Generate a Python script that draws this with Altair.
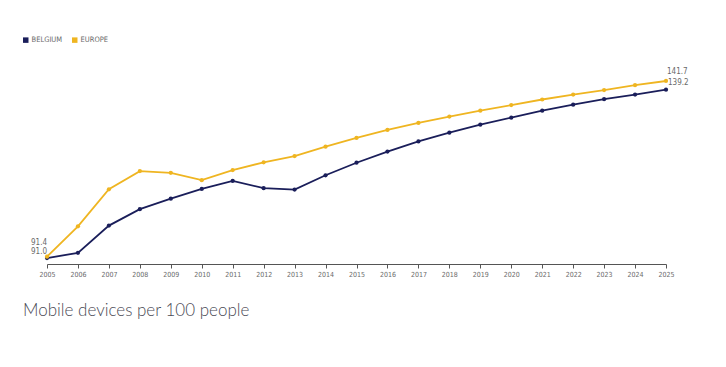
import altair as alt
import pandas as pd

years = list(range(2005, 2026))
belgium = [91.0, 92.5, 100.3, 105.0, 108.0, 110.8, 113.1, 111.0, 110.6, 114.7, 118.3,
           121.5, 124.4, 126.9, 129.2, 131.2, 133.2, 134.9, 136.5, 137.8, 139.2]
europe = [91.4, 100.1, 110.7, 115.9, 115.4, 113.3, 116.2, 118.4, 120.2, 122.9, 125.4,
          127.7, 129.7, 131.5, 133.2, 134.8, 136.4, 137.8, 139.1, 140.5, 141.7]
series_names = ["BELGIUM", "EUROPE"]
series_colors = ["#1a1e5a", "#efb521"]
title_text = "Mobile devices per 100 people"

FONT = "Liberation Sans Narrow, DejaVu Sans Condensed, Open Sans, sans-serif"

rows = []
for name, vals in zip(series_names, [belgium, europe]):
    for yr, v in zip(years, vals):
        rows.append({"year": yr, "value": v, "series": name, "label": f"{v:.1f}"})
df = pd.DataFrame(rows)

scale_c = alt.Scale(domain=series_names, range=series_colors)
legend = alt.Legend(title=None, orient="none", legendX=-25, legendY=6,
                    direction="horizontal", symbolType="square",
                    symbolSize=30, labelFontSize=7.5, labelColor="#6a6a6a",
                    labelFont=FONT, columnPadding=8, symbolStrokeWidth=0,
                    symbolOffset=0, labelOffset=2)
x = alt.X("year:Q",
          scale=alt.Scale(domain=[2005, 2025], nice=False, zero=False),
          axis=alt.Axis(values=years, format="d", title=None, grid=False,
                        labelFontSize=7, labelColor="#6a6a6a", labelFont=FONT,
                        tickColor="#555555", domainColor="#555555", tickSize=4,
                        labelPadding=2, labelFlush=False, domainWidth=1))
y = alt.Y("value:Q", scale=alt.Scale(domain=[89.3, 156.3], nice=False, zero=False), axis=None)

base = alt.Chart(df).encode(x=x, y=y)
lines = base.mark_line(strokeWidth=1.8).encode(color=alt.Color("series:N", scale=scale_c, legend=legend))
points = base.mark_circle(size=18, opacity=1).encode(
    color=alt.Color("series:N", scale=scale_c, legend=legend))

lab_style = dict(fontSize=8, color="#6a6a6a", font=FONT)
lab_be_start = base.mark_text(align="right", dx=0, dy=-6, **lab_style).encode(text="label:N").transform_filter(
    (alt.datum.series == "BELGIUM") & (alt.datum.year == 2005))
lab_eu_start = base.mark_text(align="right", dx=0, dy=-14, **lab_style).encode(text="label:N").transform_filter(
    (alt.datum.series == "EUROPE") & (alt.datum.year == 2005))
lab_be_end = base.mark_text(align="left", dx=2, dy=-7, **lab_style).encode(text="label:N").transform_filter(
    (alt.datum.series == "BELGIUM") & (alt.datum.year == 2025))
lab_eu_end = base.mark_text(align="left", dx=1, dy=-9, **lab_style).encode(text="label:N").transform_filter(
    (alt.datum.series == "EUROPE") & (alt.datum.year == 2025))

title_layer = alt.Chart(pd.DataFrame({"t": [title_text]})).mark_text(
    align="left", baseline="middle", fontSize=17, font="Lato", fontWeight=300, color="#4a4a55"
).encode(text="t:N", x=alt.value(-24), y=alt.value(281))

chart = alt.layer(lines, points, lab_be_start, lab_eu_start, lab_be_end, lab_eu_end, title_layer).properties(
    width=619, height=234,
    autosize=alt.AutoSizeParams(type="none"),
    padding={"left": 39, "top": 22, "right": 48, "bottom": 90},
    background="white",
).configure_view(stroke=None)

chart.save("out.html", embed_options={"renderer": "svg", "actions": False})
